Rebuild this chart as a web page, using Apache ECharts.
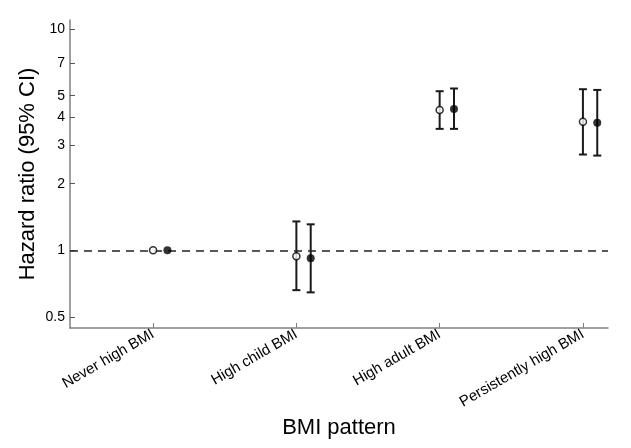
<!DOCTYPE html>
<html>
<head>
<meta charset="utf-8">
<script src="https://cdn.jsdelivr.net/npm/echarts@6/dist/echarts.min.js"></script>
<style>
  html, body { margin: 0; padding: 0; background: #fff; }
  #chart { width: 631px; height: 448px; }
</style>
</head>
<body>
<div id="chart"></div>
<script>
// BMI patterns along the x axis (positions 1..4)
const categories = ['Never high BMI', 'High child BMI', 'High adult BMI', 'Persistently high BMI'];
const positions = [1, 2, 3, 4];

// Model A (open markers): hazard ratio with 95% CI
const hrOpen = [1, 0.94, 4.31, 3.81];
const loOpen = [1, 0.66, 3.54, 2.71];
const hiOpen = [1, 1.35, 5.24, 5.35];

// Model B (filled markers): hazard ratio with 95% CI
const hrFilled = [1, 0.92, 4.35, 3.77];
const loFilled = [1, 0.645, 3.54, 2.68];
const hiFilled = [1, 1.31, 5.39, 5.31];

// Log-scale tick labels
const yTicks = [0.5, 1, 2, 3, 4, 5, 7, 10];

const offsetFilled = 0.1;
const FONT = 'Liberation Sans, Arial, sans-serif';

function barData(hr, lo, hi, shift) {
  return positions.map((p, i) => [p + shift, lo[i], hi[i], hr[i]]);
}
function pointData(hr, shift) {
  return positions.map((p, i) => [p + shift, hr[i]]);
}

function renderErrorBar(params, api) {
  const x = api.value(0);
  const lo = api.value(1);
  const hi = api.value(2);
  if (lo === hi) return null;
  const top = api.coord([x, hi]);
  const bot = api.coord([x, lo]);
  const cap = 4;
  const style = { stroke: '#1a1a1a', lineWidth: 2 };
  return {
    type: 'group',
    children: [
      { type: 'line', shape: { x1: top[0], y1: top[1], x2: bot[0], y2: bot[1] }, style },
      { type: 'line', shape: { x1: top[0] - cap, y1: top[1], x2: top[0] + cap, y2: top[1] }, style },
      { type: 'line', shape: { x1: bot[0] - cap, y1: bot[1], x2: bot[0] + cap, y2: bot[1] }, style }
    ]
  };
}

const chart = echarts.init(document.getElementById('chart'), null, { renderer: 'canvas' });

chart.setOption({
  animation: false,
  backgroundColor: '#fff',
  grid: { left: 70, right: 23, top: 20, bottom: 120, containLabel: false },
  xAxis: {
    type: 'value',
    min: 0.42,
    max: 4.175,
    name: 'BMI pattern',
    nameLocation: 'middle',
    nameGap: 89,
    nameMoveOverlap: false,
    nameTextStyle: { fontFamily: FONT, fontSize: 22, color: '#000' },
    splitLine: { show: false },
    axisLine: { show: true, lineStyle: { color: '#808080', width: 1.5 } },
    axisTick: {
      show: true, inside: true, length: 5,
      customValues: positions,
      lineStyle: { color: '#808080', width: 1 }
    },
    axisLabel: {
      customValues: positions,
      rotate: 30,
      margin: 5,
      fontFamily: FONT,
      fontSize: 15,
      color: '#000',
      formatter: v => categories[Math.round(v) - 1] || ''
    }
  },
  yAxis: {
    type: 'log',
    logBase: 10,
    min: 0.445,
    max: 11,
    name: 'Hazard ratio (95% CI)',
    nameLocation: 'middle',
    nameGap: 31,
    nameMoveOverlap: false,
    nameTextStyle: { fontFamily: FONT, fontSize: 22, color: '#000' },
    splitLine: { show: false },
    axisLine: { show: true, lineStyle: { color: '#808080', width: 1.5 } },
    axisTick: {
      show: true, inside: true, length: 5,
      customValues: yTicks,
      lineStyle: { color: '#555', width: 1 }
    },
    axisLabel: {
      customValues: yTicks,
      margin: 5,
      fontFamily: FONT,
      fontSize: 14,
      color: '#000',
      formatter: v => String(v)
    }
  },
  series: [
    {
      type: 'custom',
      name: 'CI open',
      renderItem: renderErrorBar,
      data: barData(hrOpen, loOpen, hiOpen, 0),
      encode: { x: 0, y: [1, 2] },
      z: 3,
      markLine: {
        silent: true,
        symbol: ['none', 'none'],
        label: { show: false },
        lineStyle: { color: '#222', width: 1.5, type: [8, 6] },
        data: [{ yAxis: 1 }]
      }
    },
    {
      type: 'custom',
      name: 'CI filled',
      renderItem: renderErrorBar,
      data: barData(hrFilled, loFilled, hiFilled, offsetFilled),
      encode: { x: 0, y: [1, 2] },
      z: 3
    },
    {
      type: 'scatter',
      name: 'HR open',
      data: pointData(hrOpen, 0),
      symbol: 'circle',
      symbolSize: 7,
      itemStyle: { color: '#fff', borderColor: '#000', borderWidth: 1.5 },
      z: 5
    },
    {
      type: 'scatter',
      name: 'HR filled',
      data: pointData(hrFilled, offsetFilled),
      symbol: 'circle',
      symbolSize: 8,
      itemStyle: { color: '#000' },
      z: 5
    }
  ]
});
</script>
</body>
</html>
